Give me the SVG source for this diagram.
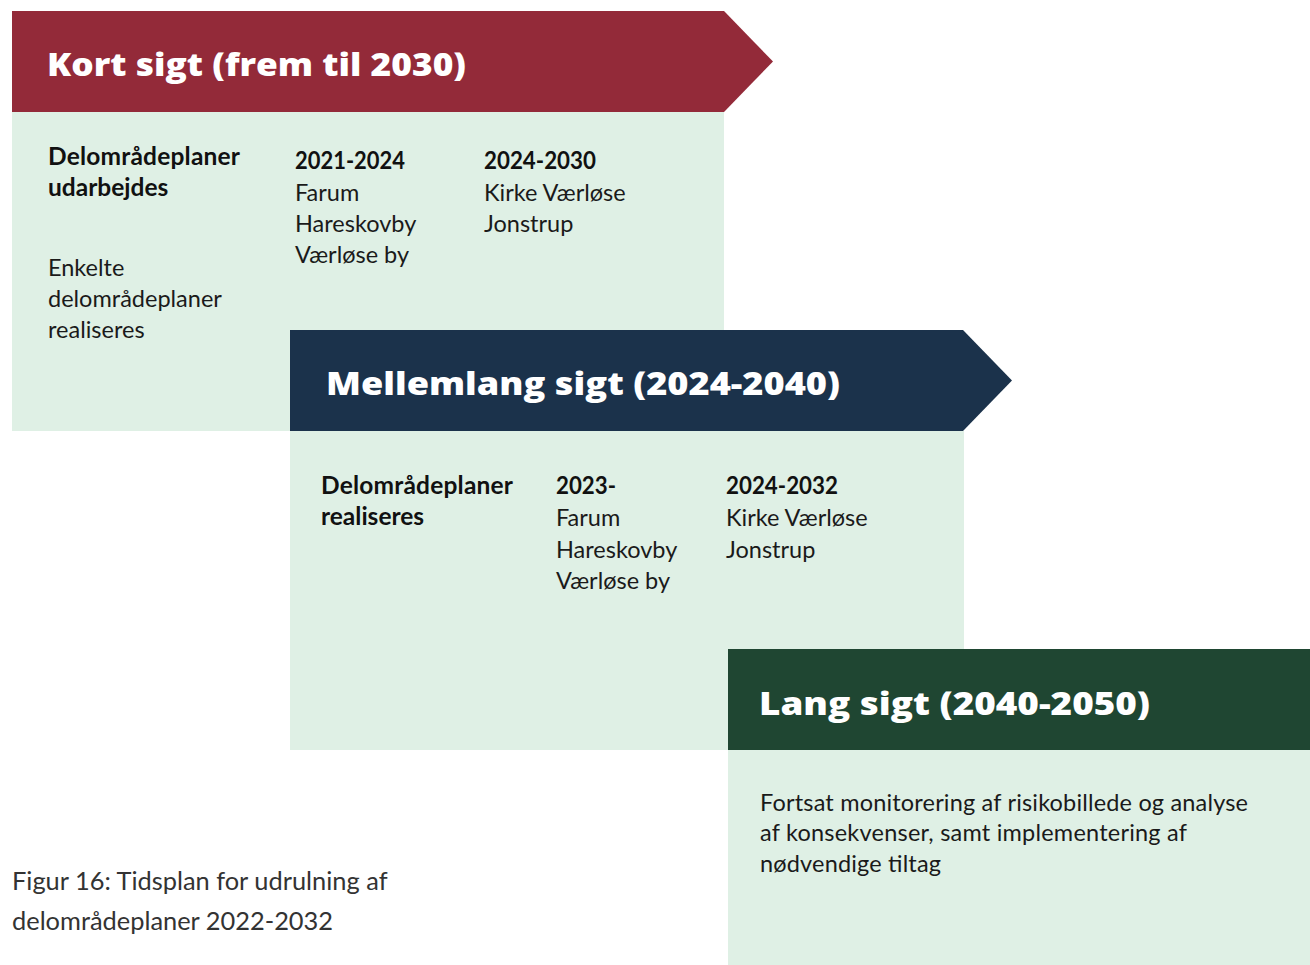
<svg xmlns="http://www.w3.org/2000/svg" width="1310" height="965" viewBox="0 0 1310 965">
<style>
.hd{font-family:"Open Sans","Liberation Sans",sans-serif;font-weight:800;font-size:32px;fill:#ffffff}
.b{font-family:Lato,"Liberation Sans",sans-serif;font-size:23.5px;fill:#1a1a1a}
.bb{font-family:Lato,"Liberation Sans",sans-serif;font-size:24.5px;font-weight:700;fill:#111}
.cap{font-family:Lato,"Liberation Sans",sans-serif;font-size:25.4px;fill:#333}
.pale{fill:#dff0e5}
</style>
<rect width="1310" height="965" fill="#ffffff"/>
<g id="kort">
<rect class="pale" x="12" y="112" width="712" height="319"/>
<polygon points="12,11 724,11 773,61.5 724,112 12,112" fill="#932a39"/>
<text class="hd" x="47" y="76" textLength="419" lengthAdjust="spacingAndGlyphs">Kort sigt (frem til 2030)</text>
<text class="bb" x="48" y="165" textLength="192">Delområdeplaner</text>
<text class="bb" x="48" y="196">udarbejdes</text>
<text class="b" x="48" y="276">Enkelte</text>
<text class="b" x="48" y="307">delområdeplaner</text>
<text class="b" x="48" y="338">realiseres</text>
<text class="bb" x="295" y="169" textLength="110" lengthAdjust="spacingAndGlyphs">2021-2024</text>
<text class="b" x="295" y="201">Farum</text>
<text class="b" x="295" y="232">Hareskovby</text>
<text class="b" x="295" y="263">Værløse by</text>
<text class="bb" x="484" y="169" textLength="112" lengthAdjust="spacingAndGlyphs">2024-2030</text>
<text class="b" x="484" y="201">Kirke Værløse</text>
<text class="b" x="484" y="232">Jonstrup</text>
</g>
<g id="mellem">
<rect class="pale" x="290" y="431" width="674" height="319"/>
<polygon points="290,330 963,330 1012,380.5 963,431 290,431" fill="#1b324b"/>
<text class="hd" x="326" y="395" textLength="514" lengthAdjust="spacingAndGlyphs">Mellemlang sigt (2024-2040)</text>
<text class="bb" x="321" y="494" textLength="192">Delområdeplaner</text>
<text class="bb" x="321" y="525">realiseres</text>
<text class="bb" x="556" y="494" textLength="60" lengthAdjust="spacingAndGlyphs">2023-</text>
<text class="b" x="556" y="526">Farum</text>
<text class="b" x="556" y="558">Hareskovby</text>
<text class="b" x="556" y="589">Værløse by</text>
<text class="bb" x="726" y="494" textLength="112" lengthAdjust="spacingAndGlyphs">2024-2032</text>
<text class="b" x="726" y="526">Kirke Værløse</text>
<text class="b" x="726" y="558">Jonstrup</text>
</g>
<g id="lang">
<rect class="pale" x="728" y="750" width="582" height="215"/>
<rect x="728" y="649" width="582" height="101" fill="#1f4632"/>
<text class="hd" x="759" y="715" textLength="391" lengthAdjust="spacingAndGlyphs">Lang sigt (2040-2050)</text>
<text class="b" x="760" y="811" textLength="488">Fortsat monitorering af risikobillede og analyse</text>
<text class="b" x="760" y="841" textLength="427">af konsekvenser, samt implementering af</text>
<text class="b" x="760" y="872" textLength="181">nødvendige tiltag</text>
</g>
<g id="caption">
<text class="cap" x="12" y="890">Figur 16: Tidsplan for udrulning af</text>
<text class="cap" x="12" y="930">delområdeplaner 2022-2032</text>
</g>
<g id="connectors"/>
</svg>
